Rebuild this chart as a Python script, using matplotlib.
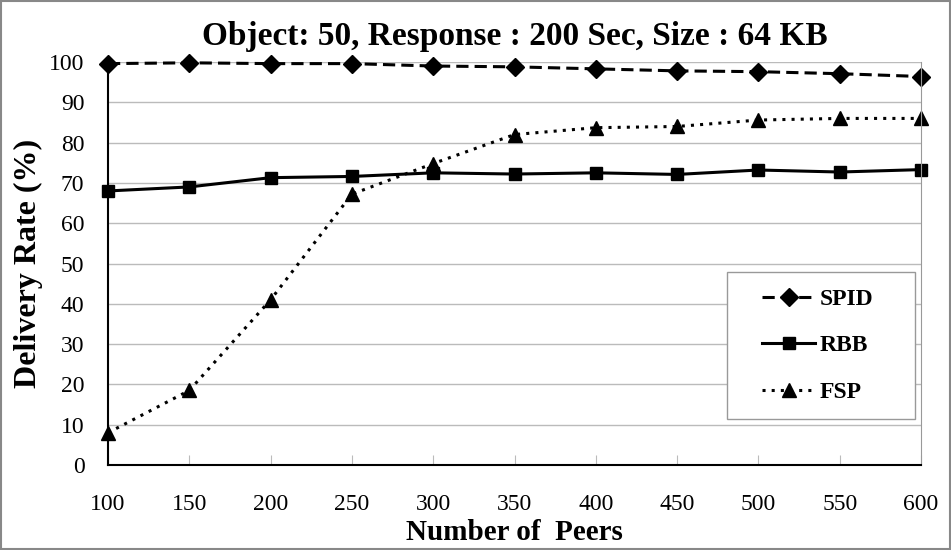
import matplotlib
matplotlib.use("Agg")
import matplotlib.pyplot as plt

peers = [100, 150, 200, 250, 300, 350, 400, 450, 500, 550, 600]
spid = [99.6, 99.8, 99.6, 99.6, 99.0, 98.8, 98.3, 97.8, 97.6, 97.1, 96.4]
rbb = [68.0, 69.0, 71.3, 71.6, 72.5, 72.2, 72.5, 72.1, 73.2, 72.7, 73.3]
fsp = [8.0, 18.5, 41.0, 67.2, 74.8, 82.0, 83.7, 84.0, 85.6, 86.0, 86.0]
yticks = list(range(0, 101, 10))

plt.rcParams['font.family'] = ['Liberation Serif', 'DejaVu Serif']

fig = plt.figure(figsize=(9.51, 5.5), dpi=100)
ax = fig.add_axes([108 / 951, 85 / 550, 813 / 951, 403 / 550])

ax.plot(peers, spid, color='black', ls=(0, (4, 2)), lw=2.2, marker='D', ms=9, label='SPID')
ax.plot(peers, rbb, color='black', ls='-', lw=2.2, marker='s', ms=8, label='RBB')
ax.plot(peers, fsp, color='black', ls=(0, (1, 2)), lw=2.2, marker='^', ms=10, label='FSP')

ax.set_xlim(100, 600)
ax.set_ylim(0, 100)
ax.set_xticks(peers)
ax.set_yticks(yticks)
ax.yaxis.grid(True, color='#bbbbbb', lw=1)
ax.set_axisbelow(True)
for m in ax.get_lines():
    m.set_clip_on(False)

ax.spines['top'].set_visible(False)
ax.spines['right'].set_color('#999999')
ax.spines['left'].set_linewidth(1.5)
ax.spines['bottom'].set_linewidth(1.5)
ax.tick_params(axis='x', direction='in', length=7, color='#bbbbbb', pad=21, labelsize=17)
ax.tick_params(axis='y', length=0, pad=17, labelsize=17)

ax.set_xlabel('Number of  Peers', fontsize=21, fontweight='bold', labelpad=3)
ax.set_ylabel('Delivery Rate (%)', fontsize=23, fontweight='bold', labelpad=4)
ax.set_title('Object: 50, Response : 200 Sec, Size : 64 KB', fontsize=24, fontweight='bold', pad=12)

# legend box drawn separately so its padding can match the original
ax.add_patch(plt.Rectangle((0.761, 0.114), 0.232, 0.365, transform=ax.transAxes,
                           facecolor='white', edgecolor='#999999', lw=1, zorder=5))
leg = ax.legend(loc='center', bbox_to_anchor=(0.873, 0.296), frameon=False,
                prop={'weight': 'bold', 'size': 17},
                labelspacing=1.05, borderpad=0, handlelength=2.25, handletextpad=0.2)
leg.set_zorder(6)

fig.patches.append(plt.Rectangle((0.001, 0.001), 0.998, 0.997, transform=fig.transFigure,
                                 fill=False, edgecolor='#888888', lw=1.5))

fig.savefig('out.png', dpi=100)
